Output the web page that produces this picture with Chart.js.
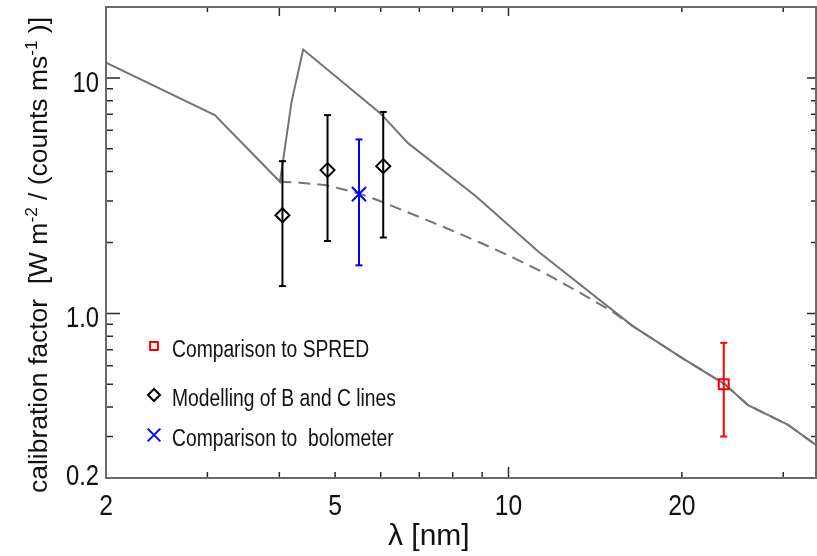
<!DOCTYPE html>
<html>
<head>
<meta charset="utf-8">
<script src="https://cdn.jsdelivr.net/npm/chart.js@4.4.1/dist/chart.umd.min.js"></script>
<style>
  html, body { margin: 0; padding: 0; background: #fff; }
  #wrap { width: 817px; height: 556px; }
</style>
</head>
<body>
<div id="wrap"><canvas id="calChart" width="817" height="556"></canvas></div>
<script>
// model calibration curve (solid) and the dashed variant, wavelength in nm
const modelWl  = [2.0, 3.09, 4.01, 4.20, 4.40, 5.98, 6.70, 8.80, 11.26, 16.44, 20.04, 23.76, 26.06, 30.59, 34.2];
const modelCal = [11.6, 6.95, 3.62, 7.91, 13.2, 7.1, 5.27, 3.13, 1.83, 0.883, 0.646, 0.50, 0.408, 0.336, 0.276];
const dashWl   = [4.0, 4.34, 4.83, 5.48, 5.98, 6.83, 7.81, 8.92, 10.19, 11.64, 13.3, 15.2, 16.44, 20.04, 23.76, 26.06, 30.59, 34.2];
const dashCal  = [3.62, 3.59, 3.50, 3.24, 3.00, 2.63, 2.30, 2.00, 1.725, 1.47, 1.225, 1.013, 0.883, 0.646, 0.50, 0.408, 0.336, 0.276];

// measurements with error ranges
const spredWl = [23.65];
const spredCal = [0.50];
const spredLo = [0.30];
const spredHi = [0.75];

const bcWl = [4.05, 4.85, 6.06];
const bcCal = [2.61, 4.06, 4.22];
const bcLo = [1.306, 2.03, 2.10];
const bcHi = [4.43, 6.95, 7.17];

const boloWl = [5.50];
const boloCal = [3.21];
const boloLo = [1.60];
const boloHi = [5.48];

// axes
const xTicks = [2, 3, 4, 5, 6, 7, 8, 9, 10, 20, 30];
const xLabels = { 2: '2', 5: '5', 10: '10', 20: '20' };
const yTicks = [0.2, 0.3, 0.4, 0.5, 0.6, 0.7, 0.8, 0.9, 1, 2, 3, 4, 5, 6, 7, 8, 9, 10];
const yLabels = { 0.2: '0.2', 1: '1.0', 10: '10' };

const FONT = '"Liberation Sans", Arial, sans-serif';
const NARROW = 0.82;   // squeeze Liberation Sans to look like Helvetica Narrow
const GREY = '#747474';

const pts = (xs, ys) => xs.map((x, i) => ({ x: x, y: ys[i] }));
function bars(xs, lo, hi) {
    const out = [];
    xs.forEach((x, i) => {
        out.push({ x: x, y: lo[i] }, { x: x, y: hi[i] }, { x: x, y: null });
    });
    return out;
}

function drawText(ctx, s, x, y, size, align, squeeze) {
    ctx.save();
    ctx.font = size + 'px ' + FONT;
    ctx.translate(x, y);
    ctx.scale(squeeze, 1);
    ctx.textAlign = align;
    ctx.textBaseline = 'alphabetic';
    ctx.fillText(s, 0, 0);
    ctx.restore();
}

// inward ticks on all four sides + frame
const frameTicks = {
    id: 'frameTicks',
    afterDatasetsDraw(chart) {
        const { ctx, chartArea: a, scales: { x, y } } = chart;
        ctx.save();
        ctx.strokeStyle = '#2a2a2a';
        ctx.lineWidth = 1.5;
        ctx.beginPath();
        xTicks.forEach(v => {
            const px = x.getPixelForValue(v);
            if (px <= a.left + 1 || px >= a.right - 1) return;
            const bot = v === 10 ? 11 : 6;
            const top = (v === 10 || v === 4) ? 9 : 5;
            ctx.moveTo(px, a.bottom); ctx.lineTo(px, a.bottom - bot);
            ctx.moveTo(px, a.top); ctx.lineTo(px, a.top + top);
        });
        yTicks.forEach(v => {
            const py = y.getPixelForValue(v);
            if (py >= a.bottom - 1 || py <= a.top + 1) return;
            const major = v === 1 || v === 10;
            ctx.moveTo(a.left, py); ctx.lineTo(a.left + (major ? 14 : 7), py);
            ctx.moveTo(a.right, py); ctx.lineTo(a.right - (major ? 9 : 5), py);
        });
        ctx.stroke();
        ctx.strokeStyle = '#6a6a6a';
        ctx.lineWidth = 2;
        ctx.strokeRect(a.left, a.top, a.right - a.left, a.bottom - a.top);
        ctx.restore();
    }
};

// tick labels, axis titles and the in-plot legend
const labelsPlugin = {
    id: 'labelsPlugin',
    afterDraw(chart) {
        const { ctx, chartArea: a, scales: { x, y } } = chart;
        ctx.save();
        ctx.fillStyle = '#111';

        xTicks.forEach(v => {
            if (!xLabels[v]) return;
            drawText(ctx, xLabels[v], x.getPixelForValue(v), a.bottom + 37, 30, 'center', NARROW);
        });
        yTicks.forEach(v => {
            if (!yLabels[v]) return;
            const py = y.getPixelForValue(v);
            drawText(ctx, yLabels[v], a.left - 7, Math.min(py + 14, a.bottom + 7), 29, 'right', NARROW);
        });

        // x title
        drawText(ctx, '\u03bb [nm]', 388, 545, 30, 'left', 1);

        // y title with superscripts, rotated, stretched to the measured length
        const parts = [
            ['calibration factor  [W m', false],
            ['-2', true],
            [' / (counts ms', false],
            ['-1', true],
            [' )]', false]
        ];
        const big = '26px ' + FONT, small = '17px ' + FONT;
        let total = 0;
        parts.forEach(p => { ctx.font = p[1] ? small : big; total += ctx.measureText(p[0]).width; });
        ctx.save();
        ctx.translate(47, 255);
        ctx.rotate(-Math.PI / 2);
        ctx.scale(476 / total, 1);
        ctx.textAlign = 'left';
        ctx.textBaseline = 'alphabetic';
        let cx = -total / 2;
        parts.forEach(p => {
            ctx.font = p[1] ? small : big;
            ctx.fillText(p[0], cx, p[1] ? -10 : 0);
            cx += ctx.measureText(p[0]).width;
        });
        ctx.restore();

        // legend
        const rows = [
            { text: 'Comparison to SPRED', style: 'rect', color: '#ff0000', r: 5.5, y: 357 },
            { text: 'Modelling of B and C lines', style: 'rectRot', color: '#000000', r: 6, y: 406 },
            { text: 'Comparison to  bolometer', style: 'crossRot', color: '#0000ff', r: 9, y: 446 }
        ];
        rows.forEach(row => {
            ctx.strokeStyle = row.color;
            ctx.fillStyle = 'rgba(0,0,0,0)';
            ctx.lineWidth = 2;
            Chart.helpers.drawPoint(ctx, { pointStyle: row.style, radius: row.r, rotation: 0, borderWidth: 2 }, 154, row.y - 11);
            ctx.fillStyle = '#111';
            drawText(ctx, row.text, 172, row.y, 23.5, 'left', NARROW);
        });
        ctx.restore();
    }
};

new Chart(document.getElementById('calChart'), {
    type: 'scatter',
    data: {
        datasets: [
            {
                label: 'SPRED', data: pts(spredWl, spredCal), pointStyle: 'rect', pointRadius: 7,
                pointBorderColor: '#ff0000', pointBackgroundColor: 'transparent', pointBorderWidth: 2, showLine: false
            },
            {
                label: 'B and C lines', data: pts(bcWl, bcCal), pointStyle: 'rectRot', pointRadius: 7,
                pointBorderColor: '#000000', pointBackgroundColor: 'transparent', pointBorderWidth: 2, showLine: false
            },
            {
                label: 'bolometer', data: pts(boloWl, boloCal), pointStyle: 'crossRot', pointRadius: 10,
                pointBorderColor: '#0000ff', pointBorderWidth: 2, showLine: false
            },
            {
                label: 'SPRED err', data: bars(spredWl, spredLo, spredHi), showLine: true, spanGaps: false,
                borderColor: '#ff0000', borderWidth: 2, pointStyle: 'line', pointRadius: 3.5,
                pointBorderColor: '#ff0000', pointBorderWidth: 2
            },
            {
                label: 'B and C err', data: bars(bcWl, bcLo, bcHi), showLine: true, spanGaps: false,
                borderColor: '#000000', borderWidth: 2, pointStyle: 'line', pointRadius: 3.5,
                pointBorderColor: '#000000', pointBorderWidth: 2
            },
            {
                label: 'bolometer err', data: bars(boloWl, boloLo, boloHi), showLine: true, spanGaps: false,
                borderColor: '#0000ff', borderWidth: 2, pointStyle: 'line', pointRadius: 3.5,
                pointBorderColor: '#0000ff', pointBorderWidth: 2
            },
            {
                label: 'model dashed', data: pts(dashWl, dashCal), showLine: true, pointRadius: 0,
                borderColor: GREY, borderWidth: 2, borderDash: [12, 7]
            },
            {
                label: 'model', data: pts(modelWl, modelCal), showLine: true, pointRadius: 0,
                borderColor: GREY, borderWidth: 2
            }
        ]
    },
    options: {
        responsive: false,
        animation: false,
        devicePixelRatio: 1,
        layout: { autoPadding: false, padding: { top: 7, right: 1, left: 0, bottom: 0 } },
        plugins: { legend: { display: false }, tooltip: { enabled: false } },
        elements: { line: { tension: 0 } },
        scales: {
            x: {
                type: 'logarithmic', min: 2, max: 34.2,
                afterBuildTicks: s => { s.ticks = xTicks.map(v => ({ value: v })); },
                afterFit: s => { s.height = 78; s.paddingLeft = 0; s.paddingRight = 0; },
                grid: { display: false, drawTicks: false },
                border: { display: false },
                ticks: { display: false }
            },
            y: {
                type: 'logarithmic', min: 0.2, max: 20,
                afterBuildTicks: s => { s.ticks = yTicks.map(v => ({ value: v })); },
                afterFit: s => { s.width = 106; s.paddingTop = 0; s.paddingBottom = 0; },
                grid: { display: false, drawTicks: false },
                border: { display: false },
                ticks: { display: false }
            }
        }
    },
    plugins: [frameTicks, labelsPlugin]
});
</script>
</body>
</html>
